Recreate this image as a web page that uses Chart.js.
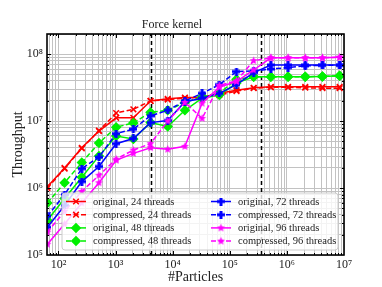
<!DOCTYPE html>
<html>
<head>
<meta charset="utf-8">
<script src="https://cdn.jsdelivr.net/npm/chart.js@4.4.0/dist/chart.umd.min.js"></script>
<style>
  html, body { margin: 0; padding: 0; background: #fff; }
  #wrap { width: 382px; height: 287px; }
</style>
</head>
<body>
<div id="wrap"><canvas id="forceChart" width="382" height="287"></canvas></div>
<script>
var particles = [64, 128, 256, 512, 1024, 2048, 4096, 8192, 16384, 32768, 65536,
                 131072, 262144, 524288, 1048576, 2097152, 4194304, 8388608];

var orig24 = [1.05e6, 2.0e6, 4.0e6, 7.1e6, 1.12e7, 1.12e7, 2.0e7, 2.15e7, 2.25e7, 2.25e7, 2.6e7, 2.9e7, 3.15e7, 3.25e7, 3.25e7, 3.25e7, 3.25e7, 3.25e7];
var comp24 = [1.0e6, 1.95e6, 3.9e6, 7.2e6, 1.32e7, 1.5e7, 2.0e7, 2.1e7, 2.2e7, 2.3e7, 2.45e7, 2.8e7, 3.1e7, 3.2e7, 3.2e7, 3.15e7, 3.1e7, 3.1e7];
var orig48 = [3.3e5, 7.0e5, 1.45e6, 3.0e6, 6.0e6, 5.4e6, 9.5e6, 8.3e6, 1.45e7, 2.2e7, 2.45e7, 3.7e7, 4.6e7, 4.6e7, 4.6e7, 4.6e7, 4.65e7, 4.75e7];
var comp48 = [6.0e5, 1.2e6, 2.4e6, 4.7e6, 8.1e6, 9.4e6, 1.35e7, 1.45e7, 1.9e7, 2.3e7, 2.6e7, 4.2e7, 4.6e7, 4.6e7, 4.6e7, 4.6e7, 4.65e7, 4.75e7];
var orig72 = [2.6e5, 5.5e5, 1.25e6, 2.1e6, 4.6e6, 5.5e6, 9.5e6, 1.02e7, 1.95e7, 2.2e7, 2.6e7, 3.5e7, 5.3e7, 6.9e7, 6.9e7, 6.9e7, 6.9e7, 6.9e7];
var comp72 = [3.8e5, 8.0e5, 1.95e6, 2.9e6, 6.5e6, 7.6e6, 1.2e7, 1.45e7, 2.0e7, 2.6e7, 3.5e7, 5.5e7, 5.6e7, 6.0e7, 6.3e7, 6.7e7, 6.8e7, 6.8e7];
var orig96 = [1.45e5, 2.9e5, 6.0e5, 1.2e6, 2.6e6, 3.3e6, 4.0e6, 3.8e6, 4.2e6, 1.85e7, 3.2e7, 3.9e7, 5.8e7, 8.8e7, 8.8e7, 8.8e7, 8.8e7, 9.0e7];
var comp96 = [2.2e5, 4.5e5, 8.9e5, 1.55e6, 2.7e6, 3.7e6, 4.6e6, 1.0e7, 1.9e7, 1.1e7, 3.4e7, 4.0e7, 8.0e7, 8.8e7, 8.8e7, 8.8e7, 8.8e7, 9.0e7];

// vertical dashed markers (cache limits)
var cacheLines = [4096, 350000];

var xDecades = [1e2, 1e3, 1e4, 1e5, 1e6, 1e7];
var xLabels = ['10²', '10³', '10⁴', '10⁵', '10⁶', '10⁷'];
var yDecades = [1e5, 1e6, 1e7, 1e8];
var yLabels = ['10⁵', '10⁶', '10⁷', '10⁸'];

var SERIF = '"Liberation Serif", "DejaVu Serif", serif';
var RED = '#ff0000', GREEN = '#00f000', BLUE = '#0000ff', MAG = '#ff00ff';
var DASH = [5, 2.5];

function makePlus(color, s) {
  var c = document.createElement('canvas');
  c.width = s; c.height = s;
  var g = c.getContext('2d');
  var t = 3;
  g.fillStyle = color;
  g.fillRect((s - t) / 2, 0, t, s);
  g.fillRect(0, (s - t) / 2, s, t);
  return c;
}

function makeStar(color, r) {
  var s = Math.ceil(r * 2 + 2);
  var c = document.createElement('canvas');
  c.width = s; c.height = s;
  var g = c.getContext('2d');
  g.fillStyle = color;
  g.beginPath();
  for (var i = 0; i < 10; i++) {
    var rr = i % 2 === 0 ? r : r * 0.45;
    var a = -Math.PI / 2 + i * Math.PI / 5;
    var px = s / 2 + rr * Math.cos(a), py = s / 2 + rr * Math.sin(a);
    if (i === 0) g.moveTo(px, py); else g.lineTo(px, py);
  }
  g.closePath();
  g.fill();
  return c;
}

var bluePlus = makePlus(BLUE, 8);
var magStar = makeStar(MAG, 4.2);

var series = [
  { label: 'original, 24 threads',   values: orig24, color: RED,   dash: [],   marker: 'crossRot', radius: 4 },
  { label: 'compressed, 24 threads', values: comp24, color: RED,   dash: DASH, marker: 'crossRot', radius: 4 },
  { label: 'original, 48 threads',   values: orig48, color: GREEN, dash: [],   marker: 'rectRot',  radius: 4.2 },
  { label: 'compressed, 48 threads', values: comp48, color: GREEN, dash: DASH, marker: 'rectRot',  radius: 4.2 },
  { label: 'original, 72 threads',   values: orig72, color: BLUE,  dash: [],   marker: bluePlus,   radius: 4 },
  { label: 'compressed, 72 threads', values: comp72, color: BLUE,  dash: DASH, marker: bluePlus,   radius: 4 },
  { label: 'original, 96 threads',   values: orig96, color: MAG,   dash: [],   marker: magStar,    radius: 4 },
  { label: 'compressed, 96 threads', values: comp96, color: MAG,   dash: DASH, marker: magStar,    radius: 4 }
];

var datasets = series.map(function(s, i) {
  return {
    label: s.label,
    data: particles.map(function(p, j) { return { x: p, y: s.values[j] }; }),
    borderColor: s.color,
    backgroundColor: s.color,
    borderWidth: 1.5,
    borderDash: s.dash,
    pointStyle: s.marker,
    pointRadius: s.radius,
    pointBorderWidth: 1.5,
    pointBorderColor: s.color,
    pointBackgroundColor: s.color,
    tension: 0,
    fill: false,
    order: series.length - 1 - i
  };
});

function logTicks(lo, hi) {
  var t = [];
  for (var e = Math.floor(Math.log10(lo)); e <= Math.ceil(Math.log10(hi)); e++) {
    for (var k = 1; k < 10; k++) {
      var v = k * Math.pow(10, e);
      if (v >= lo * 0.999 && v <= hi * 1.001) t.push({ value: v, major: k === 1 });
    }
  }
  return t;
}

function decadeLabel(value, decades, labels) {
  for (var i = 0; i < decades.length; i++) {
    if (Math.abs(value - decades[i]) / decades[i] < 1e-6) return labels[i];
  }
  return '';
}

function drawMarker(ctx, s, x, y) {
  ctx.save();
  ctx.setLineDash([]);
  ctx.fillStyle = s.color;
  ctx.strokeStyle = s.color;
  ctx.lineWidth = 1.5;
  if (s.marker === 'crossRot') {
    var d = s.radius * Math.SQRT1_2;
    ctx.beginPath();
    ctx.moveTo(x - d, y - d); ctx.lineTo(x + d, y + d);
    ctx.moveTo(x - d, y + d); ctx.lineTo(x + d, y - d);
    ctx.stroke();
  } else if (s.marker === 'rectRot') {
    var r = s.radius;
    ctx.beginPath();
    ctx.moveTo(x, y - r); ctx.lineTo(x + r, y); ctx.lineTo(x, y + r); ctx.lineTo(x - r, y);
    ctx.closePath();
    ctx.fill(); ctx.stroke();
  } else {
    ctx.drawImage(s.marker, x - s.marker.width / 2, y - s.marker.height / 2);
  }
  ctx.restore();
}

var cachePlugin = {
  id: 'cacheLines',
  beforeDatasetsDraw: function(chart) {
    var ctx = chart.ctx, a = chart.chartArea, xs = chart.scales.x;
    ctx.save();
    ctx.strokeStyle = '#000';
    ctx.lineWidth = 1.5;
    ctx.setLineDash([4, 3]);
    cacheLines.forEach(function(v) {
      var px = Math.round(xs.getPixelForValue(v)) + 0.5;
      ctx.beginPath();
      ctx.moveTo(px, a.top);
      ctx.lineTo(px, a.bottom);
      ctx.stroke();
    });
    ctx.restore();
  }
};

var framePlugin = {
  id: 'frame',
  afterDatasetsDraw: function(chart) {
    var ctx = chart.ctx, a = chart.chartArea;
    var xs = chart.scales.x, ys = chart.scales.y;
    ctx.save();
    ctx.strokeStyle = '#000';
    ctx.lineWidth = 1;
    ctx.beginPath();
    xs.ticks.forEach(function(t) {
      var px = Math.round(xs.getPixelForValue(t.value)) + 0.5;
      if (px <= a.left + 1 || px >= a.right - 1) return;
      var len = t.major ? 4 : 2;
      ctx.moveTo(px, a.bottom); ctx.lineTo(px, a.bottom - len);
      ctx.moveTo(px, a.top); ctx.lineTo(px, a.top + len);
    });
    ys.ticks.forEach(function(t) {
      var py = Math.round(ys.getPixelForValue(t.value)) + 0.5;
      if (py <= a.top + 1 || py >= a.bottom - 1) return;
      var len = t.major ? 4 : 2;
      ctx.moveTo(a.left, py); ctx.lineTo(a.left + len, py);
      ctx.moveTo(a.right, py); ctx.lineTo(a.right - len, py);
    });
    ctx.stroke();
    ctx.lineWidth = 1.6;
    ctx.strokeRect(a.left, a.top, a.right - a.left, a.bottom - a.top);
    ctx.restore();
  }
};

var legendPlugin = {
  id: 'innerLegend',
  afterDraw: function(chart) {
    var ctx = chart.ctx, a = chart.chartArea;
    var bx = a.left + 15, by = a.bottom - 62, bw = 276, bh = 57, r = 3;
    ctx.save();
    ctx.beginPath();
    ctx.moveTo(bx + r, by);
    ctx.lineTo(bx + bw - r, by); ctx.arcTo(bx + bw, by, bx + bw, by + r, r);
    ctx.lineTo(bx + bw, by + bh - r); ctx.arcTo(bx + bw, by + bh, bx + bw - r, by + bh, r);
    ctx.lineTo(bx + r, by + bh); ctx.arcTo(bx, by + bh, bx, by + bh - r, r);
    ctx.lineTo(bx, by + r); ctx.arcTo(bx, by, bx + r, by, r);
    ctx.closePath();
    ctx.fillStyle = 'rgba(255,255,255,0.8)';
    ctx.fill();
    ctx.strokeStyle = '#cccccc';
    ctx.lineWidth = 1;
    ctx.stroke();

    ctx.font = '10.5px ' + SERIF;
    ctx.textBaseline = 'middle';
    ctx.textAlign = 'left';
    series.forEach(function(s, i) {
      var col = Math.floor(i / 4), row = i % 4;
      var x0 = bx + 4 + col * 145;
      var y = by + 8.5 + row * 13.2;
      ctx.strokeStyle = s.color;
      ctx.lineWidth = 1.5;
      ctx.setLineDash(s.dash);
      ctx.beginPath();
      ctx.moveTo(x0, y); ctx.lineTo(x0 + 20, y);
      ctx.stroke();
      ctx.setLineDash([]);
      drawMarker(ctx, s, x0 + 10, y);
      ctx.fillStyle = '#222';
      ctx.fillText(s.label, x0 + 27, y + 0.5);
    });
    ctx.restore();
  }
};

var ctx = document.getElementById('forceChart').getContext('2d');
var forceChart = new Chart(ctx, {
  type: 'line',
  data: { datasets: datasets },
  options: {
    responsive: false,
    animation: false,
    events: [],
    layout: { padding: { left: 0, right: 38, top: 0, bottom: 0 } },
    plugins: {
      legend: { display: false },
      tooltip: { enabled: false },
      title: {
        display: true,
        text: 'Force kernel',
        color: '#222',
        font: { family: SERIF, size: 12, weight: 'normal' },
        padding: { top: 18, bottom: 1.6 }
      }
    },
    scales: {
      x: {
        type: 'logarithmic',
        min: 63,
        max: 1e7,
        afterBuildTicks: function(scale) { scale.ticks = logTicks(scale.min, scale.max); },
        afterFit: function(scale) { scale.height = 32; },
        ticks: {
          autoSkip: false,
          maxRotation: 0,
          padding: 3,
          color: '#222',
          font: { family: SERIF, size: 12 },
          callback: function(value) { return decadeLabel(value, xDecades, xLabels); }
        },
        grid: { color: '#c2c2c2', lineWidth: 1, drawTicks: false },
        border: { display: false },
        title: {
          display: true,
          text: '#Particles',
          color: '#222',
          font: { family: SERIF, size: 14 },
          padding: { top: 0, bottom: 1.5 }
        }
      },
      y: {
        type: 'logarithmic',
        min: 1e5,
        max: 2e8,
        afterBuildTicks: function(scale) { scale.ticks = logTicks(scale.min, scale.max); },
        afterFit: function(scale) { scale.width = 47; },
        ticks: {
          autoSkip: false,
          padding: 4,
          color: '#222',
          font: { family: SERIF, size: 12 },
          callback: function(value) { return decadeLabel(value, yDecades, yLabels); }
        },
        grid: { color: '#c2c2c2', lineWidth: 1, drawTicks: false },
        border: { display: false },
        title: {
          display: true,
          text: 'Throughput',
          color: '#222',
          font: { family: SERIF, size: 14 },
          padding: { top: 10, bottom: 0 }
        }
      }
    }
  },
  plugins: [cachePlugin, framePlugin, legendPlugin]
});
</script>
</body>
</html>
